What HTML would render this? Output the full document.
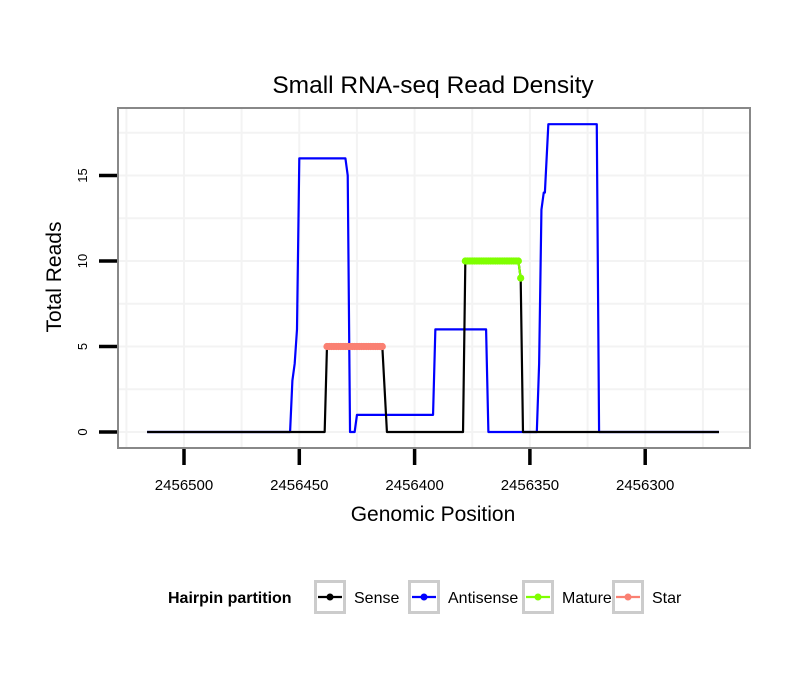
<!DOCTYPE html>
<html><head><meta charset="utf-8"><style>
body{margin:0;background:#fff;font-family:"Liberation Sans",sans-serif}
</style></head><body>
<svg id="chart" width="810" height="690" xmlns="http://www.w3.org/2000/svg" font-family="Liberation Sans, sans-serif">
<rect width="810" height="690" fill="#fff"/>
<text x="433" y="93" font-size="24.5" text-anchor="middle">Small RNA-seq Read Density</text>
<g id="grid"></g>
<g id="series"></g>
<rect x="118" y="108" width="632" height="340" fill="none" stroke="#888" stroke-width="2"/>
<g id="axes"></g>
<text x="433" y="521" font-size="21" text-anchor="middle">Genomic Position</text>
<text transform="translate(61,277) rotate(-90)" font-size="21" text-anchor="middle">Total Reads</text>
<g id="legend"></g>
</svg>
<script>
const xTicks=[2456500,2456450,2456400,2456350,2456300];
const yTicks=[0,5,10,15];
const senseX=[2456516,2456439,2456438,2456414,2456412,2456379,2456378,2456355,2456354,2456353,2456268];
const senseY=[0,0,5,5,0,0,10,10,9,0,0];
const antiX=[2456516,2456454,2456453,2456452,2456451,2456450,2456430,2456429,2456428,2456426,2456425,2456392,2456391,2456369,2456368,2456347,2456346,2456345,2456344,2456343.5,2456342,2456321,2456320,2456268];
const antiY=[0,0,3,4,6,16,16,15,0,0,1,1,6,6,0,0,4,13,14,14,18,18,0,0];
const starX=[2456438,2456437,2456436,2456435,2456434,2456433,2456432,2456431,2456430,2456429,2456428,2456427,2456426,2456425,2456424,2456423,2456422,2456421,2456420,2456419,2456418,2456417,2456416,2456415,2456414];
const starY=[5,5,5,5,5,5,5,5,5,5,5,5,5,5,5,5,5,5,5,5,5,5,5,5,5];
const matX=[2456378,2456377,2456376,2456375,2456374,2456373,2456372,2456371,2456370,2456369,2456368,2456367,2456366,2456365,2456364,2456363,2456362,2456361,2456360,2456359,2456358,2456357,2456356,2456355,2456354];
const matY=[10,10,10,10,10,10,10,10,10,10,10,10,10,10,10,10,10,10,10,10,10,10,10,10,9];
const legendLabels=["Sense","Antisense","Mature","Star"];
const legendColors=["#000","#00f","#7fff00","#fa8072"];

const NS="http://www.w3.org/2000/svg";
const X=v=>184+(2456500-v)*2.306;
const Y=v=>432-v*17.1;
function mk(tag,attrs,parent){const e=document.createElementNS(NS,tag);for(const k in attrs)e.setAttribute(k,attrs[k]);parent.appendChild(e);return e;}
const grid=document.getElementById('grid'),ser=document.getElementById('series'),ax=document.getElementById('axes'),lg=document.getElementById('legend');
for(let i=0;i<xTicks.length;i++){
 for(const v of [xTicks[i], xTicks[i]-25]){
  const l=mk('line',{x1:X(v),x2:X(v),y1:109,y2:447,stroke:'#f3f3f3','stroke-width':2},grid);
  
  
 }
}
mk('line',{x1:X(xTicks[0]+25),x2:X(xTicks[0]+25),y1:109,y2:447,stroke:'#f3f3f3','stroke-width':2},grid);
for(let i=0;i<yTicks.length;i++){
 for(const v of [yTicks[i], yTicks[i]+2.5]){
  const l=mk('line',{x1:119,x2:749,y1:Y(v),y2:Y(v),stroke:'#f3f3f3','stroke-width':2},grid);
  
  
 }
}
function line(xs,ys,color,name){
 const p=mk('polyline',{points:xs.map((x,i)=>X(x)+','+Y(ys[i])).join(' '),fill:'none',stroke:color,'stroke-width':2.2,'stroke-linejoin':'round'},ser);
 
 
}
function pts(xs,ys,color,name){
 xs.forEach((x,i)=>{const c=mk('circle',{cx:X(x),cy:Y(ys[i]),r:3.6,fill:color},ser);
 
 });
}
line(antiX,antiY,'#00f','antisense-line');
line(senseX,senseY,'#000','sense-line');
line(starX,starY,'#fa8072','star-line');
pts(starX,starY,'#fa8072','star-point');
line(matX,matY,'#7fff00','mature-line');
pts(matX,matY,'#7fff00','mature-point');
xTicks.forEach(v=>{
 const t=mk('line',{x1:X(v),x2:X(v),y1:449,y2:465,stroke:'#000','stroke-width':3.5},ax);
 
 
 const tx=mk('text',{x:X(v),y:490,'font-size':15,'text-anchor':'middle'},ax);tx.textContent=v;
 
 
});
yTicks.forEach(v=>{
 const t=mk('line',{x1:99,x2:117,y1:Y(v),y2:Y(v),stroke:'#000','stroke-width':3.5},ax);
 
 
 const tx=mk('text',{transform:`translate(87,${Y(v)}) rotate(-90)`,'font-size':13,'text-anchor':'middle'},ax);tx.textContent=v;
 
 
});
const lt=mk('text',{x:168,y:603,'font-size':16,'font-weight':'bold'},lg);lt.textContent='Hairpin partition';


const keyX=[314,408,522,612];
legendLabels.forEach((lab,i)=>{
 const g=mk('g',{},lg);
 
 
 mk('rect',{x:keyX[i]+1.5,y:581.5,width:29,height:31,fill:'#fff',stroke:'#ccc','stroke-width':3},g);
 mk('line',{x1:keyX[i]+4,x2:keyX[i]+28,y1:597,y2:597,stroke:legendColors[i],'stroke-width':2.2},g);
 mk('circle',{cx:keyX[i]+16,cy:597,r:3.5,fill:legendColors[i]},g);
 const t=mk('text',{x:keyX[i]+40,y:603,'font-size':16},g);t.textContent=lab;
});
</script>
</body></html>
